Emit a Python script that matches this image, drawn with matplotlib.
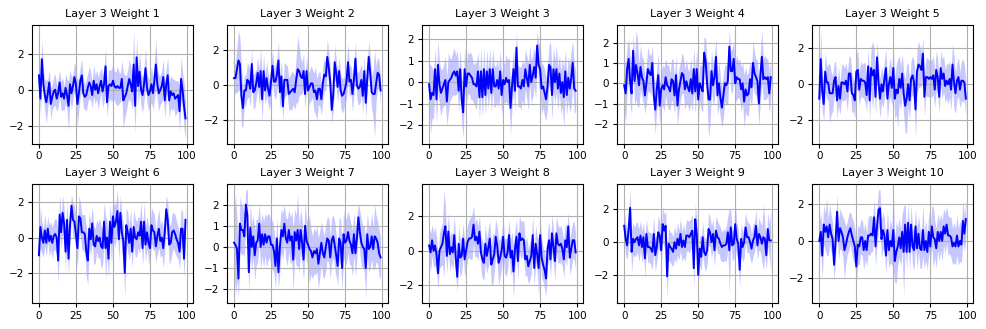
import numpy as np
import matplotlib
matplotlib.use('Agg')
from matplotlib import pyplot as plt
from matplotlib.ticker import MultipleLocator

#mean weight per step
w1 = [0.8,-0.5,1.7,0.3,-0.3,-0.7,-0.2,0.4,-0.8,-0.4,
      -0.1,0.0,-0.5,-0.2,0.4,-0.4,-0.2,-0.5,0.1,-0.3,
      -0.9,0.3,-0.2,0.2,0.7,0.3,-0.8,-0.2,0.5,0.8,
      -0.2,-0.4,-0.3,0.1,0.4,0.2,-0.3,0.5,0.0,0.3,
      -0.2,0.2,0.5,-0.1,0.3,1.3,-0.7,0.2,0.3,0.2,
      0.5,0.2,0.1,0.2,0.1,0.1,0.6,-0.6,-0.4,-0.2,
      0.2,0.6,0.3,-0.1,1.4,-0.9,1.8,0.2,1.0,0.0,
      -0.3,0.3,1.2,0.1,-0.3,-0.1,0.3,-0.2,0.5,1.4,
      0.3,-0.2,0.0,0.2,0.7,-0.6,0.3,0.8,-0.6,-0.1,
      -0.3,-0.2,-0.5,-0.4,-0.3,-1.2,0.6,0.0,-0.9,-1.6]
w2 = [0.4,0.4,0.9,1.4,1.2,-0.6,-1.3,-0.3,-0.3,0.3,
      0.2,-0.2,1.2,-0.4,-0.3,0.1,0.7,-0.1,0.8,-0.8,
      0.8,-0.3,0.4,-0.2,-0.6,0.2,1.1,0.2,0.2,0.6,
      1.4,-0.4,0.5,-1.2,0.3,0.3,0.3,-0.5,-0.4,-0.3,
      -0.2,-0.4,0.3,0.9,0.8,0.5,0.4,0.8,-0.5,0.8,
      -0.3,-0.1,0.1,0.1,-0.4,-0.3,-0.8,-0.2,-0.2,-0.8,
      0.1,0.6,0.5,1.6,1.0,0.2,-1.4,-0.6,1.3,0.7,
      -0.1,0.8,-0.3,-0.6,-0.5,-0.2,0.2,1.3,0.2,0.3,
      -0.5,0.3,1.5,0.0,-0.2,-0.1,0.3,-0.6,0.8,-1.0,
      0.4,1.6,0.7,-0.4,-0.5,-0.5,0.1,0.7,0.6,-0.3]
w3 = [-0.1,-0.8,-0.5,-0.6,0.6,-0.8,0.8,-0.1,-0.5,-0.3,
      -0.1,0.1,-0.9,0.0,0.1,0.2,0.4,0.5,0.3,0.5,
      -0.4,0.6,-0.8,-1.4,0.6,-0.2,0.4,0.4,0.3,0.2,
      -0.1,-0.1,-0.2,0.5,-0.7,0.5,-0.7,0.6,-0.6,0.5,
      -0.3,0.6,-0.5,0.6,-0.2,-0.2,0.1,-0.3,0.5,-0.6,
      0.1,-0.1,0.2,0.0,0.1,-1.2,-0.2,0.6,-0.4,1.6,
      -0.2,-0.2,-0.3,0.1,-0.2,0.6,0.2,-0.2,0.8,0.0,
      0.3,0.7,0.2,1.7,0.8,0.6,-0.3,-0.2,-0.5,-0.8,
      -0.2,0.8,0.7,-0.6,0.6,0.0,0.6,-0.3,0.4,-0.5,
      0.0,-0.7,0.5,-0.6,0.2,-0.3,0.2,0.9,-0.3,-0.4]
w4 = [-0.1,-0.5,0.7,1.2,0.1,-0.5,1.6,0.1,0.9,0.5,
      -0.1,0.8,0.3,0.1,-0.6,0.0,0.7,0.5,0.4,1.0,
      -0.6,-1.3,-0.3,0.4,-1.1,-0.3,-0.1,-0.3,0.3,-0.1,
      -0.2,-0.4,0.2,0.1,-0.6,0.4,-1.1,-0.3,0.1,0.5,
      0.4,-0.3,0.1,-0.2,-0.4,0.2,-0.5,0.7,-0.4,0.7,
      -0.8,0.0,-0.2,-0.4,1.5,1.1,0.0,-0.8,-0.8,0.6,
      -0.1,0.3,1.3,-0.6,0.0,-0.7,-1.2,-0.6,0.0,-0.1,
      0.1,1.8,0.6,0.6,1.2,0.0,0.3,0.2,0.2,-0.3,
      0.0,-0.9,-0.3,-0.6,-0.5,0.2,-0.2,1.0,0.5,0.3,
      0.1,-1.0,0.4,1.3,0.2,0.3,0.2,0.3,-0.5,0.3]
w5 = [-0.8,1.4,-0.4,-1.1,0.7,0.1,0.1,-0.5,-0.5,-0.5,
      0.2,0.4,-0.9,-0.1,-0.8,0.1,0.1,0.0,0.2,-0.4,
      0.6,0.6,-0.5,-0.6,-0.9,0.7,0.8,-0.3,0.3,0.2,
      0.2,0.1,-0.6,1.0,-0.9,0.9,0.5,0.8,-0.7,1.5,
      0.1,-0.8,0.0,-0.4,0.3,0.9,-0.8,0.0,0.4,-0.2,
      0.9,-0.8,-0.3,-0.5,0.3,-0.2,0.6,-0.5,-1.2,-0.8,
      0.0,-0.9,0.3,0.5,0.1,-1.4,0.7,1.1,1.0,0.8,
      1.7,-0.7,0.4,0.4,0.3,0.4,0.3,0.5,-0.3,0.8,
      0.4,-0.7,0.9,0.3,0.6,-0.1,0.2,0.0,0.3,-0.3,
      1.1,0.1,-0.5,0.2,0.4,-0.3,0.2,0.2,0.1,-0.8]
w6 = [-1.0,0.6,0.0,-0.3,0.4,-0.3,0.5,-0.2,0.1,-0.3,
      0.1,0.2,0.0,-1.3,1.3,0.3,1.4,0.8,-0.8,1.0,
      -1.2,0.7,1.8,1.0,0.9,0.2,-0.6,1.2,1.1,0.3,
      0.3,0.2,-0.8,-1.3,0.5,-0.1,0.8,-0.4,-0.5,0.1,
      -0.2,0.0,-0.5,-0.6,0.9,-0.6,0.0,-1.2,0.9,-0.3,
      1.2,0.6,0.9,1.5,-0.1,1.4,0.3,-0.2,-2.0,0.7,
      0.3,-0.3,0.5,-0.8,0.6,0.0,-0.1,0.3,0.1,0.9,
      -0.6,0.9,-0.4,0.3,-0.3,-0.6,0.7,0.4,0.3,-0.5,
      0.1,0.5,-0.2,0.0,-0.6,0.3,1.6,1.0,-0.4,-0.3,
      0.3,0.4,0.2,-0.1,-0.3,-0.8,0.5,0.5,-1.2,1.0]
w7 = [0.2,0.1,-0.1,-1.5,1.1,0.8,0.8,0.5,2.0,1.5,
      -1.2,0.9,0.0,0.5,-0.4,0.2,0.3,1.1,0.0,0.6,
      0.1,0.6,0.2,0.5,0.5,0.1,0.1,-0.2,-0.9,0.4,
      -1.2,0.0,0.8,0.5,1.1,0.4,0.2,0.8,0.3,0.5,
      -0.6,0.7,0.3,0.8,-0.1,0.8,0.2,-0.6,1.0,0.3,
      0.1,-0.1,-0.2,-0.5,-0.2,-0.3,-0.1,-0.8,-0.3,0.2,
      -0.3,-0.5,0.0,0.4,0.3,-0.5,0.3,0.5,0.1,-0.4,
      -0.9,0.4,0.2,-1.0,0.6,0.2,0.3,0.7,0.3,0.1,
      -0.3,0.6,-0.3,0.4,1.4,0.7,0.2,0.0,-0.1,-1.0,
      0.6,-0.1,0.0,0.5,-0.1,0.5,0.4,0.2,-0.3,-0.5]
w8 = [0.3,-0.1,0.6,0.0,0.3,-0.2,-1.3,0.0,0.2,0.4,
      1.0,1.4,-0.3,1.1,-0.2,0.2,-0.1,0.9,-0.4,-1.5,
      0.4,-0.4,-0.3,0.7,-0.5,0.0,0.5,0.7,0.7,0.8,
      1.5,0.6,0.8,0.4,1.1,-0.1,-0.5,-0.7,0.4,-0.3,
      0.2,0.7,-0.8,-0.5,-0.2,0.8,0.3,-0.7,-0.4,0.0,
      0.8,-0.3,-0.4,-0.1,0.9,-0.4,0.0,-1.2,0.1,0.8,
      -0.6,1.0,0.6,0.7,0.6,-0.5,-0.3,-0.9,-0.6,-0.3,
      0.9,-1.0,0.4,-0.2,-1.0,0.9,-0.4,-0.8,-1.1,-1.6,
      0.1,0.6,-0.5,1.0,0.2,-0.6,1.0,0.4,0.3,0.4,
      0.1,-0.5,0.6,0.2,1.4,-0.4,0.1,0.6,0.6,-0.1]
w9 = [1.0,0.2,-0.2,0.8,2.1,-0.6,0.2,0.0,0.2,0.3,
      -0.2,0.4,-0.3,0.3,-1.0,0.5,-0.3,-0.3,-0.4,-0.6,
      0.5,-0.8,-0.3,0.6,0.4,-0.5,1.1,0.7,1.0,-2.1,
      -0.1,-0.3,-0.4,-0.6,0.0,-0.4,0.2,-0.2,0.5,-0.3,
      0.1,-0.3,0.4,0.4,0.3,0.5,0.7,-1.6,1.4,0.5,
      -2.0,-0.4,-0.9,0.3,-0.6,-0.8,-0.5,0.8,0.6,0.0,
      0.5,-0.5,0.7,0.3,0.2,-0.1,-0.3,-0.2,-0.2,-0.1,
      0.6,-0.5,0.9,-0.2,-0.1,1.1,0.2,-0.1,-1.7,0.2,
      -0.3,0.0,0.9,0.3,0.3,0.0,-0.4,0.1,0.3,1.0,
      -0.2,0.5,0.3,-0.1,0.3,0.2,-0.8,0.8,0.1,0.1]
w10 = [0.0,0.5,-0.8,0.9,0.5,0.8,0.2,0.9,0.4,0.1,
       -1.3,0.0,1.6,0.0,0.7,0.5,0.2,-0.5,-0.2,0.2,
       0.5,0.7,0.3,0.0,-0.3,-1.4,-0.2,-0.3,0.2,0.2,
       -0.5,0.0,-0.5,0.3,0.3,0.4,0.3,1.3,-0.3,0.8,
       1.7,1.8,0.1,0.6,0.3,-0.8,0.6,-0.5,0.0,-0.3,
       0.6,-1.1,-0.6,-0.3,0.2,-0.4,0.5,-0.6,0.9,-0.6,
       1.0,-0.6,0.9,-0.3,-0.5,0.8,-0.4,0.4,-0.4,-0.5,
       0.6,-0.5,0.0,-0.6,0.5,-0.3,0.8,0.2,0.1,-0.4,
       0.5,0.0,0.5,0.0,0.8,0.4,0.9,0.3,0.3,0.2,
       -0.3,-0.1,-0.3,0.3,-0.3,0.0,-0.2,1.1,0.4,1.2]

#half width of the shaded band
s1 = [0.6,0.9,1.1,0.8,0.9,1.2,0.8,0.7,0.9,0.7,
      0.8,0.9,0.7,0.8,0.7,0.8,0.9,0.7,0.8,0.9,
      1.4,0.8,0.9,0.7,0.8,1.0,1.3,0.9,0.8,0.9,
      0.8,0.7,0.9,0.8,0.9,0.8,0.7,0.9,0.8,0.8,
      0.9,0.8,0.7,0.9,1.0,1.0,0.8,0.9,0.8,0.9,
      1.0,0.8,0.9,1.1,0.9,0.8,1.0,1.6,1.2,1.0,
      0.9,1.1,1.0,1.0,1.9,1.5,1.1,1.0,1.1,0.9,
      1.0,0.9,1.1,0.8,0.9,0.8,1.0,0.9,1.1,1.4,
      0.9,1.0,0.8,0.9,1.0,1.0,0.9,1.0,1.0,0.9,
      0.9,0.8,1.0,0.9,0.8,1.1,1.2,1.0,1.3,1.1]
s2 = [0.7,0.9,1.3,1.7,1.5,1.7,1.1,0.9,0.8,1.0,
      0.9,1.0,0.8,0.9,1.0,0.8,0.9,1.0,1.3,1.3,
      0.9,0.8,1.0,0.9,0.8,1.0,0.9,0.8,1.0,0.9,
      1.1,1.0,0.9,0.8,1.0,0.9,0.8,0.9,1.0,1.1,
      0.9,1.0,1.3,1.9,1.4,1.0,0.9,1.0,0.8,0.9,
      1.0,0.9,1.0,0.8,1.1,1.3,1.2,0.9,1.0,0.9,
      1.0,0.9,0.8,1.0,0.9,0.8,0.8,0.9,1.0,0.8,
      0.9,0.8,0.9,1.0,0.9,0.8,1.0,1.1,0.9,0.8,
      1.0,0.9,1.0,0.8,0.9,1.0,0.9,1.0,0.8,0.9,
      0.8,0.9,1.0,0.9,1.4,2.5,1.0,0.9,0.8,0.7]
s3 = [1.0,1.6,1.2,1.1,1.0,1.1,1.2,1.0,1.1,0.9,
      1.0,1.1,1.1,1.4,1.0,0.9,1.0,1.1,0.9,1.0,
      1.0,0.9,1.1,1.2,1.0,0.9,1.0,0.9,1.1,1.0,
      0.9,1.0,1.1,0.9,1.0,1.1,0.9,1.0,0.9,1.0,
      0.9,1.0,0.9,1.0,1.0,0.9,1.0,0.9,1.0,0.9,
      1.0,0.9,1.1,1.0,1.1,1.3,1.0,0.9,1.0,0.8,
      1.0,0.9,1.0,0.9,1.0,0.9,1.0,1.1,0.9,1.0,
      1.0,0.9,1.0,0.7,1.0,1.1,1.2,1.0,1.1,1.0,
      1.0,0.9,1.2,1.1,1.0,1.0,1.1,1.0,0.9,1.0,
      1.1,1.4,1.0,0.9,1.0,1.1,1.3,1.0,1.1,1.0]
s4 = [1.2,1.5,1.1,1.0,1.2,1.0,0.8,1.2,1.7,1.7,
      1.0,1.1,1.0,1.1,0.9,1.0,1.1,0.9,1.0,0.8,
      1.0,1.2,1.0,1.1,1.0,0.9,1.0,1.1,0.9,1.0,
      1.1,0.9,1.0,1.1,0.9,1.0,1.0,1.1,0.9,1.0,
      0.9,1.0,1.1,0.9,1.0,1.1,0.9,1.0,1.1,1.0,
      1.0,0.9,1.1,1.0,0.8,1.1,1.0,1.9,1.2,1.0,
      1.0,1.1,0.9,1.0,1.1,1.0,1.0,1.1,0.9,1.0,
      1.1,0.8,1.0,1.1,0.9,1.0,1.1,0.9,1.0,1.1,
      1.0,1.3,1.1,1.0,1.1,0.9,1.0,1.1,1.0,0.9,
      1.0,1.1,1.2,1.3,1.0,1.1,1.0,0.9,1.0,1.0]
s5 = [1.0,1.6,1.1,1.0,1.1,0.9,1.0,1.7,1.2,1.0,
      1.0,0.9,1.0,1.1,0.9,1.0,1.0,0.9,1.0,1.1,
      0.9,1.0,1.1,0.9,1.0,1.0,1.1,0.9,1.0,0.9,
      1.0,1.1,0.9,1.0,1.1,1.2,1.9,1.2,1.0,0.9,
      1.0,1.1,1.0,0.9,1.0,1.1,1.2,1.0,1.1,1.0,
      1.2,1.1,1.4,1.9,1.3,1.2,1.1,1.2,1.5,1.9,
      1.2,1.1,1.0,1.1,1.2,1.6,1.2,1.3,1.1,1.0,
      0.9,1.1,1.0,1.1,1.0,1.1,1.0,1.1,1.0,1.1,
      1.0,0.9,1.0,1.1,1.0,0.9,1.0,1.1,1.0,1.1,
      1.2,1.5,1.1,1.0,1.1,1.0,1.1,1.2,1.0,1.0]
s6 = [0.8,1.2,0.9,0.8,0.9,0.8,0.7,0.9,0.8,0.9,
      0.8,0.9,1.0,1.3,1.1,0.9,1.0,0.9,1.0,1.1,
      1.0,0.9,0.6,1.0,0.9,1.0,1.1,1.2,0.9,1.0,
      1.0,1.1,1.4,1.4,1.0,0.9,1.0,1.1,1.0,0.9,
      1.0,1.1,1.2,1.0,1.1,1.8,1.0,1.1,1.0,1.2,
      1.0,1.2,1.1,1.2,1.2,1.0,1.1,1.0,1.4,1.0,
      1.1,1.0,1.1,0.9,1.0,1.1,1.0,0.9,1.0,1.1,
      1.0,1.1,1.0,0.9,1.0,1.1,1.0,1.1,1.0,0.9,
      1.0,1.1,0.9,1.0,1.1,1.0,0.8,1.0,1.1,1.0,
      1.1,1.0,1.1,1.0,0.9,1.0,1.1,1.0,1.1,0.9]
s7 = [1.3,2.4,1.5,0.9,1.3,1.2,1.1,1.0,0.7,1.2,
      1.0,1.2,1.1,1.0,1.2,1.1,1.0,0.9,1.1,1.0,
      1.1,1.0,1.2,1.1,1.0,1.1,1.2,1.0,1.1,1.0,
      0.8,1.1,1.0,1.1,0.9,1.0,1.1,1.0,1.1,1.2,
      1.5,1.1,1.2,1.7,1.1,1.0,1.1,1.0,1.1,1.0,
      1.1,1.6,1.1,1.0,1.1,1.0,1.1,1.2,1.1,1.0,
      1.1,1.0,1.1,1.0,1.1,1.0,1.1,1.0,1.1,1.0,
      0.9,1.0,1.1,1.0,1.1,1.0,1.1,1.0,1.1,1.0,
      1.1,1.0,1.1,1.0,0.7,1.0,1.1,1.0,1.1,1.4,
      1.0,1.1,1.0,1.1,1.0,1.5,1.1,1.0,1.1,1.0]
s8 = [1.0,1.1,0.9,1.0,1.1,1.0,0.9,1.0,1.1,1.2,
      2.5,1.2,1.0,1.1,1.0,0.9,1.0,1.1,1.0,0.9,
      1.0,1.1,1.0,0.9,1.0,1.1,1.0,1.1,1.2,1.3,
      1.1,1.0,1.1,1.0,0.9,1.0,1.1,1.0,1.1,1.0,
      1.1,1.0,1.1,1.5,1.1,1.0,1.1,1.3,1.1,1.0,
      1.1,1.0,1.1,1.0,0.9,1.0,1.1,1.5,1.1,1.0,
      1.1,1.0,1.1,1.0,1.1,1.0,1.1,1.0,1.1,1.0,
      1.1,1.0,1.1,1.0,1.7,1.0,1.1,1.0,1.1,1.0,
      1.0,1.1,1.0,1.1,1.0,1.1,1.0,1.1,1.0,1.1,
      1.0,1.1,1.0,1.1,0.8,1.0,1.1,1.0,1.1,1.0]
s9 = [0.9,1.0,0.9,1.0,1.1,1.3,1.0,0.9,1.0,0.9,
      1.0,0.9,1.0,0.9,1.2,0.9,1.0,0.9,1.0,1.1,
      1.0,1.0,0.9,1.0,0.9,1.0,1.1,1.0,0.9,1.3,
      1.0,0.9,1.0,0.9,1.0,0.9,1.0,0.9,1.0,0.9,
      1.0,0.9,1.0,0.9,1.0,0.9,1.0,1.2,0.9,1.0,
      0.7,1.0,0.9,1.0,0.9,1.0,0.9,1.0,0.9,1.0,
      0.9,1.0,0.9,1.0,0.9,1.0,0.9,1.0,0.9,1.1,
      1.0,2.6,1.0,0.9,1.0,1.4,1.0,0.9,1.1,1.0,
      0.9,1.0,0.9,1.0,0.9,1.0,0.9,1.0,0.9,1.0,
      0.9,1.0,0.9,1.1,2.0,1.0,0.9,1.0,1.0,1.9]
s10 = [1.0,1.1,1.3,1.1,1.0,1.6,1.0,1.1,1.0,0.9,
       0.9,1.0,0.9,1.0,1.1,1.0,1.1,1.6,1.0,0.9,
       1.0,0.9,1.0,1.1,1.0,1.0,1.1,1.0,0.9,1.0,
       1.1,1.0,0.9,1.0,1.1,1.0,0.9,1.0,1.1,1.0,
       1.1,1.0,1.1,1.0,0.9,1.0,1.1,1.0,1.2,1.0,
       2.2,1.2,1.7,1.0,1.1,1.0,1.0,2.5,1.1,1.0,
       1.1,1.0,1.1,1.0,1.1,1.0,1.1,1.0,1.1,1.0,
       1.4,1.0,1.1,1.0,1.1,1.0,1.1,1.7,1.0,1.1,
       1.0,1.1,1.0,1.1,1.0,1.1,1.0,1.1,1.0,1.1,
       1.0,1.1,1.0,1.1,1.0,1.1,1.0,1.1,1.0,1.0]

means = [w1,w2,w3,w4,w5,w6,w7,w8,w9,w10]
spreads = [s1,s2,s3,s4,s5,s6,s7,s8,s9,s10]
titles = ['Layer 3 Weight %d' % (i+1) for i in range(10)]
#y tick spacing used on each panel
ysteps = [2, 2, 1, 1, 2, 2, 1, 2, 2, 2]

fig, axes = plt.subplots(2, 5, figsize=(9.87, 3.29), dpi=100)
fig.subplots_adjust(left=0.032, right=0.986, top=0.924, bottom=0.079,
                    wspace=0.21, hspace=0.345)
for i, ax in enumerate(axes.flat):
    m = np.array(means[i])
    s = np.array(spreads[i])
    steps = np.arange(len(m))
    #shaded band then the mean on top
    ax.fill_between(steps, m - s, m + s, color='blue', alpha=0.22, linewidth=0)
    ax.plot(steps, m, color='blue', linewidth=1.4)
    ax.set_title(titles[i], fontsize=8)
    ax.set_xticks([0, 25, 50, 75, 100])
    ax.yaxis.set_major_locator(MultipleLocator(ysteps[i]))
    ax.grid(True)
    ax.tick_params(labelsize=7.5, length=3, pad=2.5)

plt.savefig('out.png', dpi=100)
